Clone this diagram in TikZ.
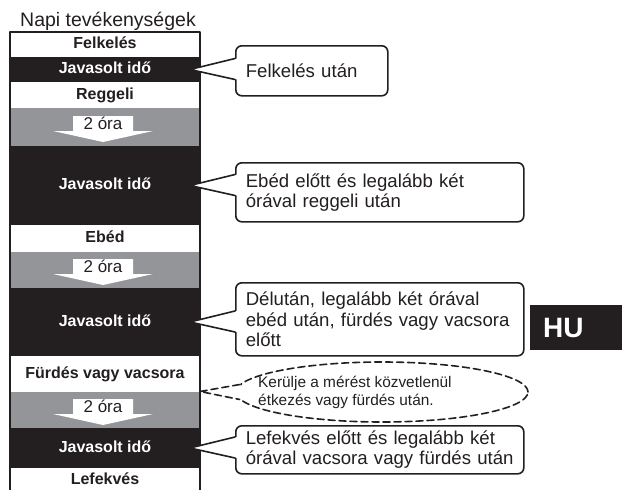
\documentclass[tikz,border=0pt]{standalone}
\usepackage{fontspec}
\setmainfont{Liberation Sans}
\usetikzlibrary{positioning,calc,shapes.geometric}
\definecolor{inkblack}{RGB}{35,31,32}
\definecolor{bandgray}{RGB}{147,149,152}
\tikzset{
  slot/.style={minimum width=190pt,inner sep=0pt,outer sep=0pt,text height=11.5pt,text depth=3pt,
    font=\fontsize{16}{18}\selectfont\bfseries},
  activity/.style={slot,fill=white,text=inkblack},
  window/.style={slot,fill=inkblack,text=white},
  pause/.style={slot,fill=bandgray},
  note/.style={draw=inkblack,fill=white,line width=1.6pt,rounded corners=6pt,anchor=north west,
    inner xsep=10pt,inner ysep=0pt,align=left,text=inkblack,font=\fontsize{18.6}{20.3}\selectfont},
}
\begin{document}
\begin{tikzpicture}[x=1pt,y=-1pt,line cap=round,line join=round]
  \useasboundingbox (0,0) rectangle (622,490);
  \node[anchor=base west,inner sep=0pt,text=inkblack,font=\fontsize{19.5}{21}\selectfont] (title) at (20,26) {Napi tevékenységek};
  \node[activity,minimum height=25pt,anchor=north west] (wake) at (10,32) {Felkelés};
  \node[window,minimum height=25pt,below=0pt of wake] (win1) {Javasolt idő};
  \node[activity,minimum height=26pt,below=0pt of win1] (breakfast) {Reggeli};
  \node[pause,minimum height=38pt,below=0pt of breakfast] (gap1) {};
  \node[window,minimum height=79pt,below=0pt of gap1] (win2) {Javasolt idő};
  \node[activity,minimum height=27pt,below=0pt of win2] (lunch) {Ebéd};
  \node[pause,minimum height=36pt,below=0pt of lunch] (gap2) {};
  \node[window,minimum height=68pt,below=0pt of gap2] (win3) {Javasolt idő};
  \node[activity,minimum height=36pt,below=0pt of win3] (bath) {Fürdés vagy vacsora};
  \node[pause,minimum height=36pt,below=0pt of bath] (gap3) {};
  \node[window,minimum height=40pt,below=0pt of gap3] (win4) {Javasolt idő};
  \node[activity,minimum height=24pt,below=0pt of win4] (bed) {Lefekvés};
  \draw[line width=1.6pt,draw=inkblack] (bed.south west) |- (wake.north east) -- (bed.south east);
  \foreach \g in {gap1,gap2,gap3}{
    \fill[white] ($(\g.center)+(-32,-11)$) -- ($(\g.center)+(28,-11)$) -- ($(\g.center)+(28,4)$)
      -- ($(\g.center)+(48,4)$) -- ($(\g.center)+(-2,15)$) -- ($(\g.center)+(-52,4)$)
      -- ($(\g.center)+(-32,4)$) -- cycle;
    \node[inner sep=0pt,text=inkblack,font=\fontsize{17}{19}\selectfont] (\g txt) at ($(\g.center)+(-2,-3.5)$) {2 óra};
  }
  \node[note,minimum width=152pt,minimum height=50pt,text width=132pt] (note1) at (235,45) {Felkelés után};
  \node[note,minimum width=288pt,minimum height=59pt,text width=268pt] (note2) at (235,162) {Ebéd előtt és legalább két\\órával reggeli után};
  \node[note,minimum width=288pt,minimum height=73pt,text width=268pt] (note3) at (235,282) {Délután, legalább két órával\\ebéd után, fürdés vagy vacsora\\előtt};
  \node[note,minimum width=288pt,minimum height=48pt,text width=268pt] (note4) at (235,425) {Lefekvés előtt és legalább két\\órával vacsora vagy fürdés után};
  \foreach \w/\n [count=\i] in {win1/note1,win2/note2,win3/note3,win4/note4}{
    \coordinate (tip\i) at ($(\w.east)+(-10,0)$);
    \fill[white] (tip\i) -- ($(\n.west|-tip\i)+(2,-11)$) -- ($(\n.west|-tip\i)+(2,10)$) -- cycle;
    \draw[line width=1.6pt,draw=inkblack] ($(\n.west|-tip\i)+(0,-11)$) -- (tip\i) -- ($(\n.west|-tip\i)+(0,10)$);
  }
  \node[ellipse,draw=inkblack,line width=1.6pt,dash pattern=on 7pt off 4pt,minimum width=292pt,minimum height=60pt,inner sep=0pt] (hint) at (382,392) {};
  \node[anchor=west,align=left,inner sep=0pt,text=inkblack,font=\fontsize{15.4}{18}\selectfont] (hinttxt) at (258,392) {Kerülje a mérést közvetlenül\\étkezés vagy fürdés után.};
  \coordinate (hinttip) at ($(gap3.north east)+(0,-0.5)$);
  \fill[white] (hinttip) -- ($(hint.177)+(1,0)$) -- ($(hint.183)+(1,0)$) -- cycle;
  \draw[line width=1.6pt,draw=inkblack,dash pattern=on 7pt off 4pt] (hint.177) -- (hinttip) -- (hint.183);
  \node[fill=inkblack,text=white,anchor=north west,minimum height=45pt,text width=70pt,inner xsep=13pt,inner ysep=0pt,align=left,
    font=\fontsize{28}{30}\selectfont\bfseries] (lang) at (530,305) {HU};
\end{tikzpicture}
\end{document}
